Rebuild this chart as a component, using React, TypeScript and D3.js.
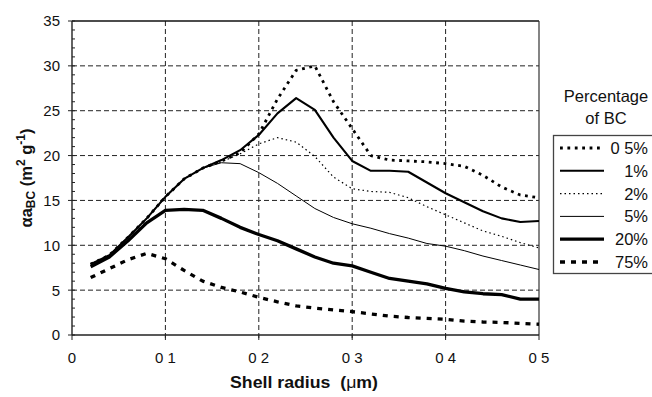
import React, { useEffect, useRef } from 'react';
import * as d3 from 'd3';

const radius = [0.02, 0.04, 0.06, 0.08, 0.10, 0.12, 0.14, 0.16, 0.18, 0.20, 0.22, 0.24, 0.26,
  0.28, 0.30, 0.32, 0.34, 0.36, 0.38, 0.40, 0.42, 0.44, 0.46, 0.48, 0.50];

const bc05 = [7.9, 8.9, 10.9, 13.0, 15.4, 17.4, 18.6, 19.4, 20.3, 22.4, 26.3, 29.5, 30.0,
  26.0, 23.0, 20.0, 19.5, 19.4, 19.3, 19.1, 18.8, 17.8, 16.5, 15.6, 15.3];
const bc1 = [7.9, 8.9, 10.9, 13.0, 15.4, 17.4, 18.6, 19.5, 20.6, 22.3, 24.7, 26.4, 25.1,
  22.0, 19.4, 18.3, 18.3, 18.2, 17.0, 15.8, 14.8, 13.8, 13.0, 12.6, 12.7];
const bc2 = [7.9, 8.9, 10.9, 13.0, 15.4, 17.4, 18.6, 19.3, 20.2, 21.3, 22.0, 21.5, 19.9,
  17.6, 16.3, 16.0, 15.9, 15.3, 14.3, 13.4, 12.5, 11.6, 11.0, 10.3, 9.7];
const bc5 = [7.9, 8.9, 10.9, 13.0, 15.4, 17.4, 18.6, 19.2, 19.1, 18.1, 16.9, 15.5, 14.1,
  13.1, 12.4, 11.9, 11.3, 10.8, 10.2, 9.9, 9.4, 8.8, 8.3, 7.8, 7.3];
const bc20 = [7.6, 8.7, 10.5, 12.5, 13.9, 14.0, 13.9, 13.0, 12.0, 11.2, 10.5, 9.6, 8.7,
  8.0, 7.7, 7.0, 6.3, 6.0, 5.7, 5.2, 4.8, 4.6, 4.5, 4.0, 4.0];
const bc75 = [6.4, 7.4, 8.4, 9.1, 8.5, 7.2, 6.0, 5.3, 4.8, 4.2, 3.7, 3.25, 3.0,
  2.8, 2.6, 2.35, 2.1, 1.95, 1.85, 1.75, 1.55, 1.45, 1.4, 1.3, 1.2];

const seriesNames = ['0 5%', '1%', '2%', '5%', '20%', '75%'];
const seriesValues = [bc05, bc1, bc2, bc5, bc20, bc75];
const seriesStyles = [
  { width: 2.8, dash: '2.8,4.6' },
  { width: 2.1, dash: null },
  { width: 1.2, dash: '1.5,3' },
  { width: 1, dash: null },
  { width: 3.3, dash: null },
  { width: 3.3, dash: '5,6' },
];

const xTicks = [0, 0.1, 0.2, 0.3, 0.4, 0.5];
const xTickLabels = ['0', '0 1', '0 2', '0 3', '0 4', '0 5'];
const yTicks = [0, 5, 10, 15, 20, 25, 30, 35];

const App: React.FC = () => {
  const svgRef = useRef<SVGSVGElement>(null);
  const width = 652;
  const height = 397;

  useEffect(() => {
    if (!svgRef.current) return;
    const svg = d3.select(svgRef.current);
    svg.selectAll('*').remove();

    const font = '"Liberation Sans", Arial, sans-serif';
    const x = d3.scaleLinear().domain([0, 0.5]).range([72, 539]);
    const y = d3.scaleLinear().domain([0, 35]).range([335, 21]);

    svg.append('rect').attr('width', width).attr('height', height).attr('fill', '#fff');

    // grid
    const grid = svg.append('g').attr('stroke', '#222').attr('stroke-width', 1)
      .attr('stroke-dasharray', '5,3');
    grid.selectAll('line.h')
      .data(yTicks.filter(d => d > 0 && d < 35))
      .join('line')
      .attr('x1', x(0)).attr('x2', x(0.5))
      .attr('y1', d => y(d)).attr('y2', d => y(d));
    grid.selectAll('line.v')
      .data(xTicks.filter(d => d > 0 && d < 0.5))
      .join('line')
      .attr('class', 'v')
      .attr('x1', d => x(d)).attr('x2', d => x(d))
      .attr('y1', y(35)).attr('y2', y(0) + 5);

    // frame
    svg.append('line').attr('x1', x(0)).attr('x2', x(0.5)).attr('y1', y(35)).attr('y2', y(35))
      .attr('stroke', '#111').attr('stroke-width', 1.6);
    svg.append('line').attr('x1', x(0.5)).attr('x2', x(0.5)).attr('y1', y(35)).attr('y2', y(0))
      .attr('stroke', '#333').attr('stroke-width', 1.2);
    svg.append('line').attr('x1', x(0)).attr('x2', x(0.5)).attr('y1', y(0)).attr('y2', y(0))
      .attr('stroke', '#222').attr('stroke-width', 1.4);
    svg.append('line').attr('x1', x(0)).attr('x2', x(0)).attr('y1', y(35)).attr('y2', y(0))
      .attr('stroke', '#222').attr('stroke-width', 1.4);

    // y ticks, major outside and minor inside
    svg.append('g').selectAll('line')
      .data(d3.range(0, 36))
      .join('line')
      .attr('x1', d => d % 5 === 0 ? x(0) - 4 : x(0))
      .attr('x2', x(0) + 3)
      .attr('y1', d => y(d)).attr('y2', d => y(d))
      .attr('stroke', '#222').attr('stroke-width', 1);
    svg.append('g').selectAll('line')
      .data(xTicks)
      .join('line')
      .attr('x1', d => x(d)).attr('x2', d => x(d))
      .attr('y1', y(0)).attr('y2', y(0) + 5)
      .attr('stroke', '#222').attr('stroke-width', 1);

    svg.append('g').selectAll('text')
      .data(yTicks)
      .join('text')
      .attr('x', 60).attr('y', d => y(d)).attr('dy', '0.36em')
      .attr('text-anchor', 'end')
      .style('font-family', font).style('font-size', '15px').attr('fill', '#111')
      .text(d => String(d));

    svg.append('g').selectAll('text')
      .data(xTicks)
      .join('text')
      .attr('x', d => x(d)).attr('y', 363)
      .attr('text-anchor', 'middle')
      .style('font-family', font).style('font-size', '15px').attr('fill', '#111')
      .style('white-space', 'pre')
      .text((d, i) => xTickLabels[i]);

    // axis titles
    const xt = svg.append('text').attr('x', 230).attr('y', 388)
      .attr('textLength', 148).attr('lengthAdjust', 'spacingAndGlyphs')
      .style('white-space', 'pre')
      .style('font-family', font).style('font-size', '16px').style('font-weight', 'bold')
      .attr('fill', '#111');
    xt.append('tspan').text('Shell radius  (');
    xt.append('tspan').text('μ').style('font-weight', 'normal');
    xt.append('tspan').text('m)');

    const yt = svg.append('text')
      .attr('transform', `translate(32,${y(17.5)}) rotate(-90)`)
      .attr('text-anchor', 'middle')
      .style('font-family', font).style('font-size', '16.5px').style('font-weight', 'bold')
      .attr('fill', '#111');
    yt.append('tspan').text('αa');
    yt.append('tspan').text('BC').attr('dy', 3).style('font-size', '12px');
    yt.append('tspan').text(' (m').attr('dy', -3);
    yt.append('tspan').text('2').attr('dy', -7).style('font-size', '12px');
    yt.append('tspan').text(' g').attr('dy', 7);
    yt.append('tspan').text('-1').attr('dy', -7).style('font-size', '12px');
    yt.append('tspan').text(')').attr('dy', 7);

    // series
    const line = d3.line<number>()
      .x((d, i) => x(radius[i]))
      .y(d => y(d));

    svg.append('g').selectAll('path')
      .data(seriesValues)
      .join('path')
      .attr('d', d => line(d))
      .attr('fill', 'none')
      .attr('stroke', '#000')
      .attr('stroke-linejoin', 'round')
      .attr('stroke-width', (d, i) => seriesStyles[i].width)
      .attr('stroke-dasharray', (d, i) => seriesStyles[i].dash);

    // legend
    svg.append('text').attr('x', 606).attr('y', 102).attr('text-anchor', 'middle')
      .style('font-family', font).style('font-size', '16.5px').attr('fill', '#111')
      .text('Percentage');
    svg.append('text').attr('x', 606).attr('y', 124).attr('text-anchor', 'middle')
      .style('font-family', font).style('font-size', '16.5px').attr('fill', '#111')
      .text('of BC');

    svg.append('rect').attr('x', 553.5).attr('y', 135.5).attr('width', 110).attr('height', 138)
      .attr('fill', '#fff').attr('stroke', '#444').attr('stroke-width', 1.3);

    const rowY = d3.scaleLinear().domain([0, 5]).range([148, 262]);
    const leg = svg.append('g').selectAll('g')
      .data(seriesNames)
      .join('g')
      .attr('transform', (d, i) => `translate(0,${rowY(i)})`);
    leg.append('line')
      .attr('x1', 560).attr('x2', 604).attr('y1', 0).attr('y2', 0)
      .attr('stroke', '#000')
      .attr('stroke-width', (d, i) => seriesStyles[i].width)
      .attr('stroke-dasharray', (d, i) => seriesStyles[i].dash);
    leg.append('text')
      .attr('x', 648).attr('y', 0).attr('dy', '0.36em')
      .attr('text-anchor', 'end')
      .style('white-space', 'pre')
      .style('font-family', font).style('font-size', '16.5px').attr('fill', '#111')
      .text(d => d);
  }, []);

  return (
    <svg ref={svgRef} width={width} height={height}
      style={{ position: 'absolute', left: 0, top: 0, display: 'block' }} />
  );
};

export default App;
